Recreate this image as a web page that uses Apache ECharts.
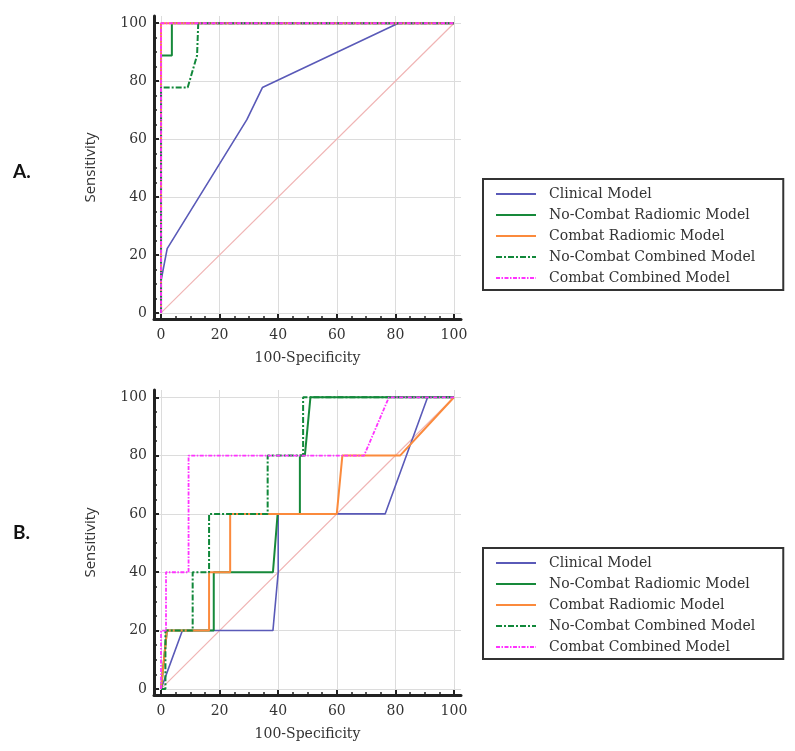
<!DOCTYPE html>
<html>
<head>
<meta charset="utf-8">
<script src="https://cdn.jsdelivr.net/npm/echarts@6/dist/echarts.min.js"></script>
<style>html,body{margin:0;padding:0;background:#fff}#c{width:795px;height:751px}</style>
</head>
<body>
<div id="c"></div>
<script>
// ---- data ----
const seriesNames = ['Clinical Model', 'No-Combat Radiomic Model', 'Combat Radiomic Model', 'No-Combat Combined Model', 'Combat Combined Model'];
const majorTicks = [0, 20, 40, 60, 80, 100];
const minorTicks = [5, 10, 15, 25, 30, 35, 45, 50, 55, 65, 70, 75, 85, 90, 95];
const refLine = [[0, 0], [100, 100]];

// Panel A
const A_clinical = [[0, 0], [0, 11.1], [2.1, 22.2], [29.3, 66.7], [34.6, 77.8], [81, 100], [100, 100]];
const A_noCombatRadiomic = [[0, 0], [0, 88.9], [3.7, 88.9], [3.7, 100], [100, 100]];
const A_combatRadiomic = [[0, 0], [0, 100], [100, 100]];
const A_noCombatCombined = [[0, 0], [0, 77.8], [9.1, 77.8], [12.3, 88.9], [12.7, 100], [100, 100]];
const A_combatCombined = [[0, 0], [0, 100], [100, 100]];

// Panel B
const B_clinical = [[0, 0], [7.3, 20], [38.2, 20], [40, 40], [40, 60], [76.5, 60], [91, 100], [100, 100]];
const B_noCombatRadiomic = [[0, 0], [2, 20], [18, 20], [18, 40], [38.2, 40], [39.8, 60], [47.4, 60], [47.4, 80], [49.1, 80], [51, 100], [100, 100]];
const B_combatRadiomic = [[0, 0], [2, 20], [16.4, 20], [16.4, 40], [23.6, 40], [23.6, 60], [60, 60], [61.9, 80], [81.6, 80], [100, 100]];
const B_noCombatCombined = [[0, 0], [1.5, 0], [1.5, 20], [10.8, 20], [10.8, 40], [16.4, 40], [16.4, 60], [36.4, 60], [36.4, 80], [48.5, 80], [48.5, 100], [100, 100]];
const B_combatCombined = [[0, 0], [0, 20], [1.7, 20], [1.7, 40], [9.4, 40], [9.4, 80], [69.3, 80], [77.8, 100], [100, 100]];

// ---- styles ----
const styles = [
  {color: '#5a5ab8', width: 1.6, type: 'solid'},
  {color: '#16893a', width: 2, type: 'solid'},
  {color: '#fb8a3c', width: 2, type: 'solid'},
  {color: '#11883a', width: 2, type: [6, 2, 2, 2]},
  {color: '#ff33ff', width: 1.8, type: [4, 1.5, 1.5, 1.5]}
];
const serifFont = 'DejaVu Serif';

function mkSeries(name, data, idx, gi) {
  const s = styles[idx];
  return {
    name: name, type: 'line', data: data, xAxisIndex: gi * 2, yAxisIndex: gi * 2,
    symbol: 'none', silent: true, animation: false, z: 3 + idx,
    lineStyle: {color: s.color, width: s.width, type: s.type},
    itemStyle: {color: s.color}
  };
}
function refSeries(gi) {
  return {
    name: 'ref', type: 'line', data: refLine, xAxisIndex: gi * 2, yAxisIndex: gi * 2,
    symbol: 'none', silent: true, animation: false, z: 2,
    lineStyle: {color: '#f0b4b4', width: 1.2}
  };
}

function axes(dim, gi, min, max) {
  const main = {
    type: 'value', gridIndex: gi, min: min, max: max,
    axisLine: {show: true, onZero: false, lineStyle: {color: '#222', width: 3}},
    axisTick: {show: true, inside: true, length: 5, customValues: majorTicks, lineStyle: {color: '#222', width: 2}},
    axisLabel: {customValues: majorTicks, fontFamily: serifFont, fontSize: 14, color: '#333', margin: dim === 'x' ? 9 : 7},
    splitLine: {show: true, lineStyle: {color: '#dcdcdc', width: 1}}
  };
  const minor = {
    type: 'value', gridIndex: gi, min: min, max: max,
    axisLine: {show: false, onZero: false},
    axisTick: {show: true, inside: true, length: 3, customValues: minorTicks, lineStyle: {color: '#222', width: 1.5}},
    axisLabel: {show: false},
    splitLine: {show: false}
  };
  if (dim === 'x') {
    main.position = 'bottom'; minor.position = 'bottom';
    main.name = '100-Specificity'; main.nameLocation = 'middle'; main.nameGap = 32;
    main.nameTextStyle = {fontFamily: serifFont, fontSize: 14, color: '#333'};
  } else {
    main.position = 'left'; minor.position = 'left';
    main.name = 'Sensitivity'; main.nameLocation = 'middle'; main.nameGap = 56;
    main.nameTextStyle = {fontFamily: 'Open Sans', fontSize: 15, color: '#333'};
  }
  return [main, minor];
}

function mkLegend(top) {
  return {
    data: seriesNames, orient: 'vertical', left: 483, top: top,
    padding: [8, 28, 5, 12], itemWidth: 40, itemHeight: 14, itemGap: 7,
    borderColor: '#333', borderWidth: 2, backgroundColor: '#fff',
    selectedMode: false,
    itemStyle: {opacity: 0},
    textStyle: {fontFamily: serifFont, fontSize: 14, color: '#333', padding: [0, 0, 0, 8]}
  };
}

const chart = echarts.init(document.getElementById('c'), null, {renderer: 'canvas'});
chart.setOption({
  animation: false,
  backgroundColor: '#fff',
  title: [
    {text: 'A.', left: 8, top: 157, textStyle: {fontFamily: 'Lato', fontWeight: 'bold', fontSize: 19, color: '#111'}},
    {text: 'B.', left: 8, top: 518, textStyle: {fontFamily: 'Lato', fontWeight: 'bold', fontSize: 19, color: '#111'}}
  ],
  grid: [
    {left: 154, width: 307, top: 16, height: 303, containLabel: false},
    {left: 154, width: 307, top: 390, height: 305, containLabel: false}
  ],
  xAxis: [...axes('x', 0, -2.4, 102.4), ...axes('x', 1, -2.4, 102.4)],
  yAxis: [...axes('y', 0, -2.1, 102.5), ...axes('y', 1, -2.1, 102.5)],
  legend: [mkLegend(179), mkLegend(548)],
  series: [
    refSeries(0),
    mkSeries(seriesNames[0], A_clinical, 0, 0),
    mkSeries(seriesNames[1], A_noCombatRadiomic, 1, 0),
    mkSeries(seriesNames[2], A_combatRadiomic, 2, 0),
    mkSeries(seriesNames[3], A_noCombatCombined, 3, 0),
    mkSeries(seriesNames[4], A_combatCombined, 4, 0),
    refSeries(1),
    mkSeries(seriesNames[0], B_clinical, 0, 1),
    mkSeries(seriesNames[1], B_noCombatRadiomic, 1, 1),
    mkSeries(seriesNames[2], B_combatRadiomic, 2, 1),
    mkSeries(seriesNames[3], B_noCombatCombined, 3, 1),
    mkSeries(seriesNames[4], B_combatCombined, 4, 1)
  ]
});
</script>
</body>
</html>
